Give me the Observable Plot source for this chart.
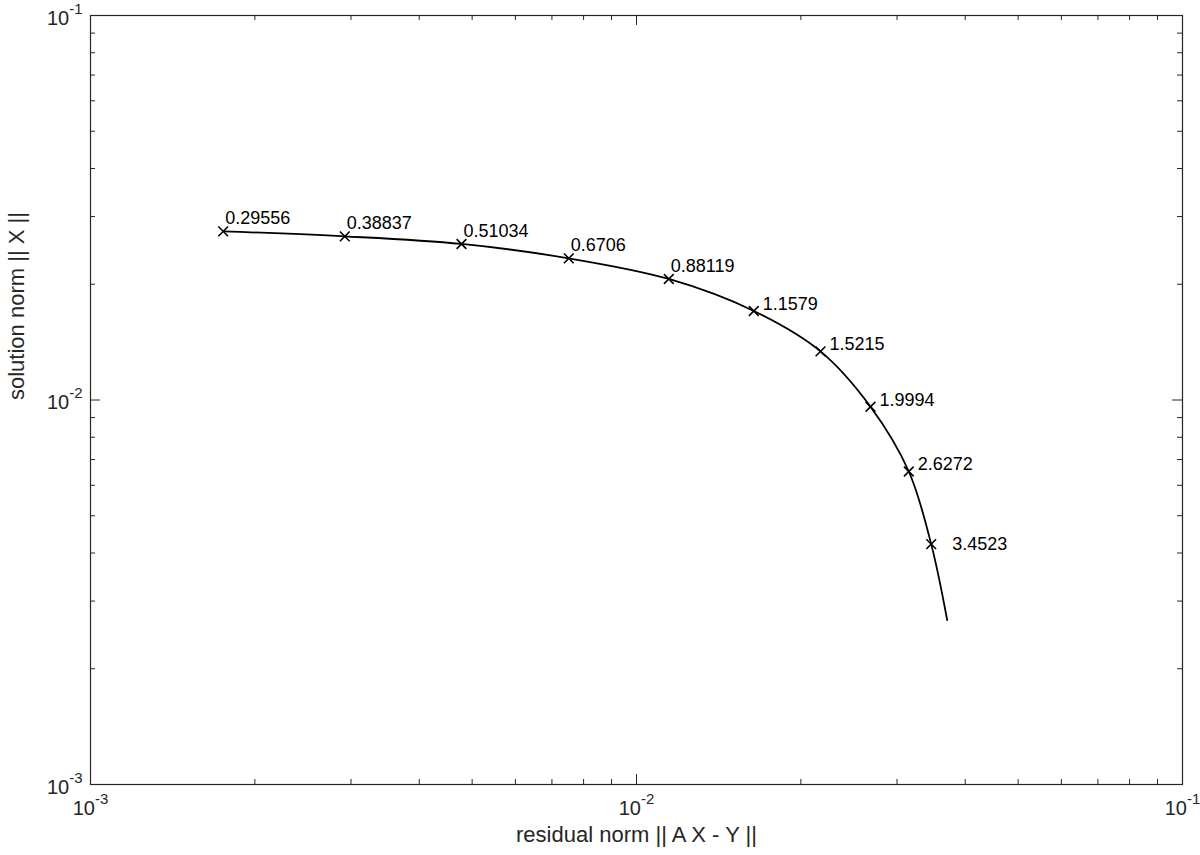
<!DOCTYPE html>
<html><head><meta charset="utf-8">
<script src="https://cdn.jsdelivr.net/npm/d3@7"></script>
<script src="https://cdn.jsdelivr.net/npm/@observablehq/plot@0.6"></script>
<style>body{margin:0;background:#fff} svg{display:block}</style>
</head><body><div id="chart"></div>
<script>
// regularization parameters shown at the markers
const lambdas = ["0.29556","0.38837","0.51034","0.6706","0.88119","1.1579","1.5215","1.9994","2.6272","3.4523"];
// marker positions (residual norm, solution norm)
const residualNorm = [0.00175, 0.0029223, 0.0047803, 0.007516, 0.011459, 0.0164, 0.021727, 0.026827, 0.03153, 0.034652];
const solutionNorm = [0.027456, 0.026647, 0.025461, 0.023356, 0.020642, 0.01704, 0.013378, 0.0096036, 0.0065172, 0.0042181];
// end of the L-curve beyond the last marker
const curveEndResidual = 0.037074;
const curveEndSolution = 0.0026751;
// axis ticks
const majorTicks = [0.001, 0.01, 0.1];
const minorTicks = [0.002,0.003,0.004,0.005,0.006,0.007,0.008,0.009,0.02,0.03,0.04,0.05,0.06,0.07,0.08,0.09];
const xLabel = "residual norm || A X - Y ||";
const yLabel = "solution norm || X ||";

const W = 1200, H = 855, mL = 90, mR = 18, mT = 15, mB = 71;
const iW = W - mL - mR, iH = H - mT - mB;
const ink = "#262626";
const font = "'Liberation Sans', Arial, Helvetica, sans-serif";

const markers = lambdas.map((l, i) => ({lambda: l, r: residualNorm[i], s: solutionNorm[i], i}));
const curve = [...markers.map(d => ({r: d.r, s: d.s})), {r: curveEndResidual, s: curveEndSolution}];
const fmt = d => "10^" + Math.round(Math.log10(d));

const plot = Plot.plot({
  width: W, height: H,
  marginLeft: mL, marginRight: mR, marginTop: mT, marginBottom: mB,
  style: {fontFamily: font, color: ink, background: "#fff"},
  x: {type: "log", domain: [0.001, 0.1]},
  y: {type: "log", domain: [0.001, 0.1]},
  marks: [
    // ticks inward on all four sides
    Plot.ruleX(majorTicks, {x: d => d, insetTop: iH - 10, stroke: ink}),
    Plot.ruleX(majorTicks, {x: d => d, insetBottom: iH - 10, stroke: ink}),
    Plot.ruleX(minorTicks, {x: d => d, insetTop: iH - 5, stroke: ink}),
    Plot.ruleX(minorTicks, {x: d => d, insetBottom: iH - 5, stroke: ink}),
    Plot.ruleY(majorTicks, {y: d => d, insetRight: iW - 10, stroke: ink}),
    Plot.ruleY(majorTicks, {y: d => d, insetLeft: iW - 10, stroke: ink}),
    Plot.ruleY(minorTicks, {y: d => d, insetRight: iW - 5, stroke: ink}),
    Plot.ruleY(minorTicks, {y: d => d, insetLeft: iW - 5, stroke: ink}),
    Plot.frame({stroke: ink, strokeWidth: 1.2}),
    Plot.axisX({ticks: majorTicks, tickSize: 0, tickPadding: 16, tickFormat: fmt, label: null, fontSize: 20}),
    Plot.axisY({ticks: majorTicks, tickSize: 0, tickPadding: 8, tickFormat: fmt, label: null, fontSize: 20, dy: 3}),
    Plot.text([xLabel], {frameAnchor: "bottom", text: d => d, lineAnchor: "bottom", dy: 57, fontSize: 22, fill: ink}),
    Plot.text([yLabel], {frameAnchor: "left", text: d => d, lineAnchor: "bottom", rotate: -90, dx: -67, fontSize: 22, fill: ink}),
    Plot.line(curve, {x: "r", y: "s", curve: "catmull-rom", stroke: "#000", strokeWidth: 1.8}),
    Plot.dot(markers, {x: "r", y: "s", symbol: "times", r: 4.5, stroke: "#000", strokeWidth: 1.6}),
    Plot.text(markers.filter(d => d.i <= 4), {x: "r", y: "s", text: "lambda", textAnchor: "start", dx: 2, dy: -13, fontSize: 18, fill: "#000"}),
    Plot.text(markers.filter(d => d.i >= 5 && d.i <= 8), {x: "r", y: "s", text: "lambda", textAnchor: "start", dx: 9, dy: -7, fontSize: 18, fill: "#000"}),
    Plot.text(markers.filter(d => d.i === 9), {x: "r", y: "s", text: "lambda", textAnchor: "start", dx: 21, dy: 0, fontSize: 18, fill: "#000"})
  ]
});

// render tick labels as 10 with a superscript exponent
const ns = "http://www.w3.org/2000/svg";
plot.querySelectorAll('g[aria-label="x-axis tick label"], g[aria-label="y-axis tick label"]').forEach(g => {
  g.setAttribute("font-size", 20);
  g.style.fontSize = "20px";
});
plot.querySelectorAll('g[aria-label="x-axis tick label"] text, g[aria-label="y-axis tick label"] text').forEach(t => {
  const [b, e] = t.textContent.split("^");
  t.textContent = "";
  t.setAttribute("font-size", 20);
  t.style.fontSize = "20px";
  const t1 = document.createElementNS(ns, "tspan"); t1.textContent = b;
  const t2 = document.createElementNS(ns, "tspan"); t2.textContent = e;
  t2.setAttribute("font-size", 15); t2.setAttribute("dy", -11);
  t.append(t1, t2);
});
document.getElementById("chart").append(plot);
</script>
</body></html>
